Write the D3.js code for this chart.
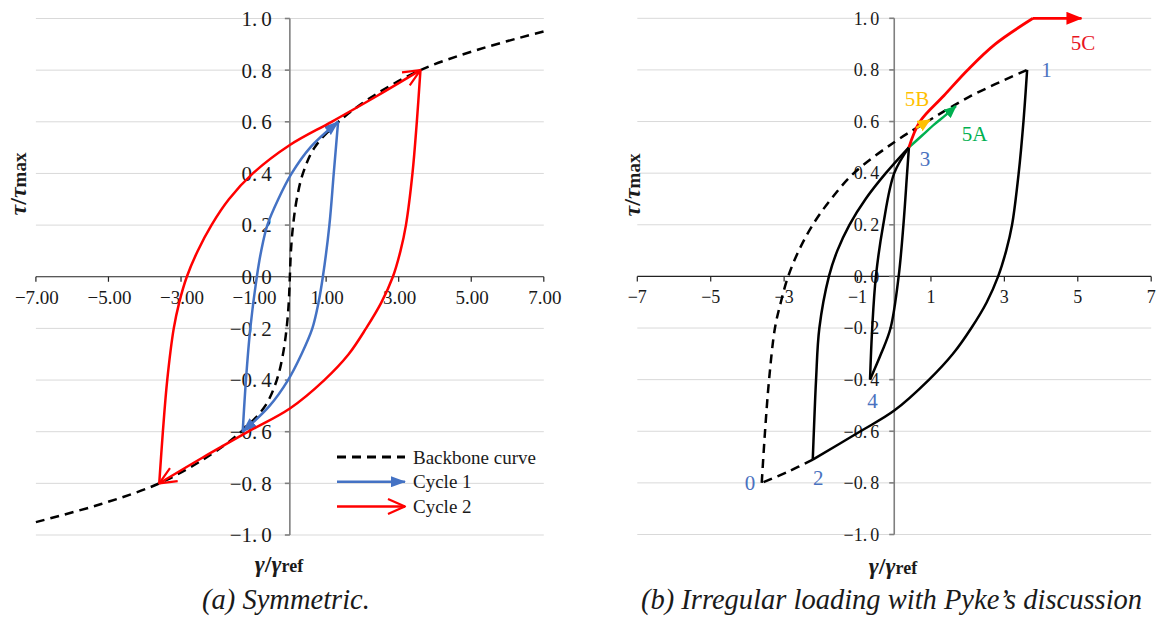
<!DOCTYPE html>
<meta charset="utf-8">
<style>
  body { margin: 0; background: #fff; }
  svg text { font-family: "Liberation Serif", serif; fill: #1a1a1a; }
  .grid line { stroke: #d9d9d9; stroke-width: 1; }
  .xaxis { stroke: #222; stroke-width: 1.2; }
  .yaxis { stroke: #7f7f7f; stroke-width: 1.6; }
  .curve { fill: none; stroke-width: 2.5; stroke-linejoin: round; }
  .dash { stroke: #000; stroke-dasharray: 9 6; }
</style>

<script src="https://d3js.org/d3.v7.min.js"></script>

<div id="chart"></div>
<script>

// ---- data (gamma/gamma_ref, tau/tau_max) ----
const tauTicks = [-1, -0.8, -0.6, -0.4, -0.2, 0, 0.2, 0.4, 0.6, 0.8, 1];
const gammaTicks = [-7, -5, -3, -1, 1, 3, 5, 7];

// (a) symmetric
const backboneA = [[-7,-0.95],[-5.2,-0.88],[-3.6,-0.8],[-2.3,-0.7],[-1.34,-0.6],[-0.68,-0.5],[-0.36,-0.4],
  [-0.19,-0.3],[-0.09,-0.2],[-0.03,-0.1],[0,0],[0.03,0.1],[0.09,0.2],[0.19,0.3],[0.36,0.4],[0.68,0.5],
  [1.34,0.6],[2.3,0.7],[3.6,0.8],[5.2,0.88],[7,0.95]];
const cycle1Unload = [[1.33,0.6],[1.21,0.4],[1.09,0.2],[0.91,0],[0.79,-0.1],[0.62,-0.2],[0.32,-0.3],[-0.05,-0.4],[-0.56,-0.5],[-1.3,-0.6]];
const cycle1Reload = [[-1.3,-0.6],[-1.21,-0.4],[-1.09,-0.2],[-0.91,0],[-0.79,0.1],[-0.62,0.2],[-0.32,0.3],[0.05,0.4],[0.56,0.5],[1.33,0.6]];
const cycle2Unload = [[3.6,0.8],[3.5,0.6],[3.38,0.4],[3.2,0.2],[3.05,0.1],[2.84,0],[2.52,-0.1],[2.1,-0.2],[1.62,-0.3],
  [0.95,-0.4],[0,-0.51],[-1.15,-0.6],[-2.4,-0.7],[-3.6,-0.8]];
const cycle2Reload = [[-3.6,-0.8],[-3.5,-0.6],[-3.38,-0.4],[-3.2,-0.2],[-3.05,-0.1],[-2.84,0],[-2.54,0.1],[-2.16,0.2],
  [-1.68,0.3],[-1.02,0.4],[0,0.51],[1.15,0.6],[2.4,0.7],[3.6,0.8]];
const legendItems = ["Backbone curve", "Cycle 1", "Cycle 2"];

// (b) irregular loading
const backboneB = [[-3.61,-0.8],[-3.52,-0.6],[-3.41,-0.4],[-3.25,-0.2],[-3.09,-0.1],[-2.89,0],[-2.6,0.1],[-2.22,0.2],
  [-1.72,0.3],[-1.1,0.4],[0,0.52],[0.9,0.6],[2.1,0.7],[3.62,0.8]];
const tailB = [[-2.22,-0.71],[-2.9,-0.757],[-3.61,-0.8]];
const path1to2 = [[3.62,0.8],[3.52,0.6],[3.39,0.4],[3.21,0.2],[3.05,0.1],[2.83,0],[2.52,-0.1],[2.1,-0.2],[1.6,-0.3],
  [0.95,-0.4],[0,-0.52],[-0.92,-0.6],[-2.22,-0.71]];
const path2to3 = [[-2.22,-0.71],[-2.19,-0.6],[-2.13,-0.4],[-2.04,-0.2],[-1.78,0],[-1.55,0.1],[-1.22,0.2],[-0.78,0.3],[-0.23,0.4],[0.4,0.5]];
const path3to4 = [[0.4,0.5],[0.35,0.4],[0.25,0.2],[0.12,0],[-0.1,-0.2],[-0.36,-0.3],[-0.66,-0.4]];
const path4to3 = [[-0.66,-0.4],[-0.6,-0.2],[-0.5,0],[-0.3,0.2],[0,0.4],[0.4,0.5]];
const path5A = [[0.4,0.5],[0.75,0.545],[1.1,0.59],[1.4,0.625],[1.68,0.66]];
const path5B = [[0.6,0.575],[0.97,0.606]];
const path5C = [[0.4,0.5],[0.7,0.6],[1.35,0.7],[2.0,0.8],[2.75,0.9],[3.78,1.0]];
const path5Cflat = [[3.78,1.0],[5.1,1.0]];
const pointLabels = [
  {t: "1",  g: 4.15,  v: 0.80,  c: "#4a72c0"},
  {t: "5C", g: 5.14,  v: 0.905, c: "#e8141e"},
  {t: "5B", g: 0.62,  v: 0.69,  c: "#ffc000"},
  {t: "5A", g: 2.19,  v: 0.555, c: "#00b050"},
  {t: "3",  g: 0.84,  v: 0.455, c: "#4a72c0"},
  {t: "4",  g: -0.59, v: -0.48, c: "#4a72c0"},
  {t: "0",  g: -3.93, v: -0.80, c: "#4a72c0"},
  {t: "2",  g: -2.07, v: -0.78, c: "#4a72c0"}
];

const BLUE = "#4472c4", RED = "#ff0000", GREEN = "#00b050", ORANGE = "#ffc000";

const svg = d3.select("#chart").append("svg")
    .attr("width", 1159).attr("height", 621)
    .attr("font-family", "Liberation Serif, serif");

// arrow heads
const defs = svg.append("defs");
function arrowMarker(id, color, len, half) {
  defs.append("marker").attr("id", id)
      .attr("markerUnits", "userSpaceOnUse")
      .attr("viewBox", `0 ${-half} ${len} ${2 * half}`)
      .attr("markerWidth", len).attr("markerHeight", 2 * half)
      .attr("refX", len - 1).attr("refY", 0).attr("orient", "auto")
    .append("path")
      .attr("d", `M0,${-half}L${len},0L0,${half}Z`)
      .attr("fill", color);
}
function chevronMarker(id, color, len, half) {
  defs.append("marker").attr("id", id)
      .attr("markerUnits", "userSpaceOnUse")
      .attr("viewBox", `-3 ${-half - 3} ${len + 6} ${2 * half + 6}`)
      .attr("markerWidth", len + 6).attr("markerHeight", 2 * half + 6)
      .attr("refX", len).attr("refY", 0).attr("orient", "auto")
    .append("path")
      .attr("d", `M0,${-half}L${len},0L0,${half}`)
      .attr("fill", "none").attr("stroke", color).attr("stroke-width", 2.2)
      .attr("stroke-linejoin", "round");
}
arrowMarker("headBlue", BLUE, 15, 5.5);
chevronMarker("chevRed", RED, 17, 7.5);
arrowMarker("headRed", RED, 16, 6.5);
arrowMarker("headGreen", GREEN, 13, 5.5);
arrowMarker("headOrange", ORANGE, 13, 6);

// frame: grid, axes, tick labels
function drawFrame(x, y, o) {
  const g = svg.append("g");
  g.append("g").attr("class", "grid")
    .selectAll("line").data(tauTicks.filter(d => d !== 0)).join("line")
      .attr("x1", x(-7)).attr("x2", x(7))
      .attr("y1", d => y(d)).attr("y2", d => y(d));

  // x axis
  g.append("line").attr("class", "xaxis")
    .attr("x1", x(-7)).attr("x2", x(7)).attr("y1", y(0)).attr("y2", y(0));
  g.selectAll(".xt").data(gammaTicks).join("line").attr("class", "xaxis")
    .attr("x1", d => x(d)).attr("x2", d => x(d)).attr("y1", y(0)).attr("y2", y(0) + 5);
  g.selectAll(".xl").data(gammaTicks).join("text")
    .attr("x", d => x(d) + o.xLabelDx).attr("y", y(0) + o.xLabelDy)
    .attr("text-anchor", "middle")
    .style("font-size", o.xFont + "px")
    .text(d => o.xFormat(d).replace("-", "\u2212"));

  // y axis
  g.append("line").attr("class", "yaxis")
    .attr("x1", x(0)).attr("x2", x(0)).attr("y1", y(1)).attr("y2", y(-1));
  g.selectAll(".yt").data(tauTicks).join("line").attr("class", "yaxis")
    .attr("x1", x(0) - 5).attr("x2", x(0)).attr("y1", d => y(d)).attr("y2", d => y(d));
  const yl = g.selectAll(".yl").data(tauTicks).join("text")
    .attr("x", x(0) - o.yLabelGap).attr("y", d => y(d)).attr("dy", "0.35em")
    .attr("text-anchor", "end")
    .style("font-size", o.yFont + "px");
  yl.append("tspan").text(d => d3.format(".1f")(d).replace("-", "\u2212").split(".")[0] + ".");
  yl.append("tspan").attr("dx", o.yDotGap).text(d => d3.format(".1f")(d).split(".")[1]);

  // axis titles
  const yt = g.append("text")
    .attr("transform", `translate(${o.yTitleX},${o.yTitleY}) rotate(-90)`)
    .attr("text-anchor", "middle")
    .style("font-size", "24px").style("font-weight", "bold");
  yt.append("tspan").style("font-style", "italic").text("\u03c4");
  yt.append("tspan").text("/");
  yt.append("tspan").style("font-style", "italic").text("\u03c4");
  yt.append("tspan").style("font-size", "19px").text("max");

  const xt = g.append("text")
    .attr("x", o.xTitleX).attr("y", o.xTitleY)
    .attr("text-anchor", "middle")
    .style("font-size", "24px").style("font-weight", "bold");
  xt.append("tspan").style("font-style", "italic").text("\u03b3");
  xt.append("tspan").text("/");
  xt.append("tspan").style("font-style", "italic").text("\u03b3");
  xt.append("tspan").style("font-size", "18px").text("ref");

  g.append("text")
    .attr("x", o.capX).attr("y", 609)
    .attr("text-anchor", o.capAnchor)
    .style("font-size", "28.5px").style("font-style", "italic")
    .text(o.caption);
}

const branch = (x, y) => d3.line().x(d => x(d[0])).y(d => y(d[1])).curve(d3.curveCatmullRom.alpha(0.5));

function curve(x, y, data, cls, color, marker) {
  const p = svg.append("path").datum(data)
    .attr("class", "curve " + cls)
    .attr("d", branch(x, y))
    .attr("stroke", color);
  if (marker) p.attr("marker-end", `url(#${marker})`);
  return p;
}

// ---------- (a) ----------
const xA = d3.scaleLinear().domain([-7, 7]).range([35.9, 543.8]);
const yA = d3.scaleLinear().domain([-1, 1]).range([535, 18.5]);

drawFrame(xA, yA, {
  xFormat: d3.format(".2f"), xFont: 19, xLabelDx: 1, xLabelDy: 27,
  yFont: 21, yLabelGap: 18, yDotGap: 4,
  yTitleX: 26, yTitleY: 184, xTitleX: 279, xTitleY: 572,
  capX: 286, capAnchor: "middle", caption: "(a) Symmetric."
});

curve(xA, yA, backboneA, "dash", "#000");
curve(xA, yA, cycle1Unload, "", BLUE, "headBlue");
curve(xA, yA, cycle1Reload, "", BLUE, "headBlue");
curve(xA, yA, cycle2Unload, "", RED, "chevRed");
curve(xA, yA, cycle2Reload, "", RED, "chevRed");

// legend
const legend = svg.append("g").attr("transform", "translate(337,457)");
legend.selectAll("text").data(legendItems).join("text")
  .attr("x", 76).attr("y", (d, i) => i * 24.7).attr("dy", "0.35em")
  .style("font-size", "19px")
  .text(d => d);
legend.append("line").attr("class", "curve dash")
  .attr("x1", 0).attr("x2", 68).attr("y1", 0).attr("y2", 0).attr("stroke", "#000")
  .style("stroke-width", 3);
legend.append("line").attr("class", "curve")
  .attr("x1", 0).attr("x2", 68).attr("y1", 24.7).attr("y2", 24.7).attr("stroke", BLUE)
  .attr("marker-end", "url(#headBlue)");
legend.append("line").attr("class", "curve")
  .attr("x1", 0).attr("x2", 68).attr("y1", 49.4).attr("y2", 49.4).attr("stroke", RED)
  .attr("marker-end", "url(#chevRed)");

// ---------- (b) ----------
const xB = d3.scaleLinear().domain([-7, 7]).range([637.3, 1151.2]);
const yB = d3.scaleLinear().domain([-1, 1]).range([534.5, 18.3]);

drawFrame(xB, yB, {
  xFormat: d3.format("d"), xFont: 18, xLabelDx: 0, xLabelDy: 27,
  yFont: 18, yLabelGap: 15, yDotGap: 3,
  yTitleX: 640, yTitleY: 185, xTitleX: 893, xTitleY: 574,
  capX: 641, capAnchor: "start", caption: "(b) Irregular loading with Pyke\u2019s discussion"
});

curve(xB, yB, backboneB, "dash", "#000");
curve(xB, yB, tailB, "dash", "#000");
curve(xB, yB, path1to2, "", "#000");
curve(xB, yB, path2to3, "", "#000");
curve(xB, yB, path3to4, "", "#000");
curve(xB, yB, path4to3, "", "#000");
curve(xB, yB, path5A, "", GREEN, "headGreen");
curve(xB, yB, path5C, "", RED).style("stroke-width", 2.8);
svg.append("path").datum(path5Cflat)
  .attr("class", "curve").attr("stroke", RED).style("stroke-width", 2.8)
  .attr("d", d3.line().x(d => xB(d[0])).y(d => yB(d[1])))
  .attr("marker-end", "url(#headRed)");
svg.append("path").datum(path5B)
  .attr("class", "curve").attr("stroke", ORANGE)
  .attr("d", d3.line().x(d => xB(d[0])).y(d => yB(d[1])))
  .attr("marker-end", "url(#headOrange)");

svg.append("g").selectAll("text").data(pointLabels).join("text")
  .attr("x", d => xB(d.g)).attr("y", d => yB(d.v)).attr("dy", "0.35em")
  .attr("text-anchor", "middle")
  .style("font-size", "21px")
  .style("fill", d => d.c)
  .text(d => d.t);

</script>
